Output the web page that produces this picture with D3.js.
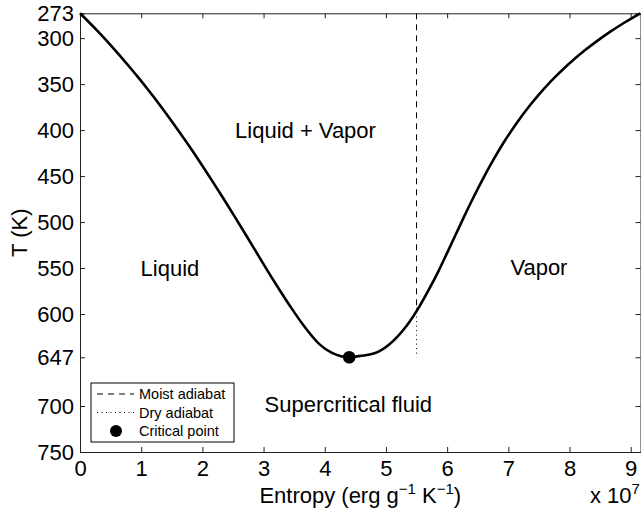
<!DOCTYPE html>
<html>
<head>
<meta charset="utf-8">
<script src="https://cdn.jsdelivr.net/npm/d3@7"></script>
<style>
body { margin: 0; background: #fff; }
svg { display: block; font-family: "Liberation Sans", Arial, Helvetica, sans-serif; }
</style>
</head>
<body>
<svg width="641" height="515"></svg>
<script>
// saturation dome of water, entropy in 1e7 erg g^-1 K^-1, T in K
var entropy = [0, 0.151, 0.297, 0.437, 0.572, 0.704, 0.831, 0.955, 1.075, 1.193, 1.307, 1.528, 1.739, 1.943, 2.139,
    2.331, 2.518, 2.702, 2.884, 3.066, 3.254, 3.450, 3.661, 3.916, 4.11, 4.25, 4.40,
    4.58, 4.80, 5.053, 5.335, 5.536, 5.705, 5.861, 6.004, 6.144, 6.285, 6.431, 6.585, 6.750, 6.929, 7.129,
    7.354, 7.478, 7.611, 7.754, 7.908, 8.075, 8.256, 8.453, 8.667, 8.900, 9.156];
var temp = [273, 283, 293, 303, 313, 323, 333, 343, 353, 363, 373, 393, 413, 433, 453,
    473, 493, 513, 533, 553, 573, 593, 613, 633, 642, 645.5, 647,
    645.5, 643, 633, 613, 593, 573, 553, 533, 513, 493, 473, 453, 433, 413, 393,
    373, 363, 353, 343, 333, 323, 313, 303, 293, 283, 273];

var moistS = 5.5, moistT = [273, 593];
var dryS = 5.5, dryT = [593, 647];
var critS = 4.40, critT = 647;

var xTicks = [0, 1, 2, 3, 4, 5, 6, 7, 8, 9];
var yTicks = [273, 300, 350, 400, 450, 500, 550, 600, 647, 700, 750];

var regionNames = ["Liquid + Vapor", "Liquid", "Vapor", "Supercritical fluid"];
var regionS = [3.685, 1.47, 7.50, 4.385];
var regionT = [409, 558.5, 557.5, 706.7];

var svg = d3.select("svg"),
    mLeft = 80, mRight = 640.5, mTop = 13.3, mBottom = 452;

var x = d3.scaleLinear().domain([0, 9.16]).range([mLeft, mRight]);
var y = d3.scaleLinear().domain([273, 750]).range([mTop, mBottom]);

var data = entropy.map(function (s, i) { return {s: s, t: temp[i]}; });

// axes, ticks pointing inward on all four sides
var fs = "22px";
var gx = svg.append("g").attr("transform", "translate(0," + mBottom + ")")
    .call(d3.axisBottom(x).tickValues(xTicks).tickSizeInner(-5).tickSizeOuter(0).tickPadding(8).tickFormat(d3.format("d")));
var gy = svg.append("g").attr("transform", "translate(" + mLeft + ",0)")
    .call(d3.axisLeft(y).tickValues(yTicks).tickSizeInner(-5).tickSizeOuter(0).tickPadding(6).tickFormat(d3.format("d")));
var gt = svg.append("g").attr("transform", "translate(0," + mTop + ")")
    .call(d3.axisTop(x).tickValues(xTicks).tickSizeInner(-5).tickSizeOuter(0).tickFormat(""));
var gr = svg.append("g").attr("transform", "translate(" + mRight + ",0)")
    .call(d3.axisRight(y).tickValues(yTicks).tickSizeInner(-5).tickSizeOuter(0).tickFormat(""));

[gx, gy, gt, gr].forEach(function (g) {
    g.selectAll("text").style("font-size", fs).attr("fill", "#000")
        .style("font-family", "'Liberation Sans', Arial, sans-serif");
    g.selectAll("path, line").attr("stroke", "#222").attr("stroke-width", 1);
});

// moist adiabat (dashed) and dry adiabat (dotted)
svg.append("line")
    .attr("x1", x(moistS)).attr("x2", x(moistS))
    .attr("y1", y(moistT[0])).attr("y2", y(moistT[1]))
    .attr("stroke", "#000").attr("stroke-width", 1).attr("stroke-dasharray", "6,5");
svg.append("line")
    .attr("x1", x(dryS)).attr("x2", x(dryS))
    .attr("y1", y(dryT[0])).attr("y2", y(dryT[1]))
    .attr("stroke", "#000").attr("stroke-width", 1).attr("stroke-dasharray", "1,3.5");

// saturation curve
var line = d3.line()
    .x(function (d) { return x(d.s); })
    .y(function (d) { return y(d.t); })
    .curve(d3.curveMonotoneX);

svg.append("path")
    .datum(data)
    .attr("d", line)
    .attr("fill", "none")
    .attr("stroke", "#000")
    .attr("stroke-width", 2.6);

svg.append("circle")
    .attr("cx", x(critS)).attr("cy", y(critT)).attr("r", 6.3)
    .attr("fill", "#000");

// region labels
svg.selectAll(".region")
    .data(regionNames)
    .enter().append("text")
    .attr("class", "region")
    .attr("x", function (d, i) { return x(regionS[i]); })
    .attr("y", function (d, i) { return y(regionT[i]); })
    .attr("text-anchor", "middle")
    .style("font-size", fs)
    .text(function (d) { return d; });

// axis labels
svg.append("text")
    .attr("transform", "translate(27," + ((mTop + mBottom) / 2) + ") rotate(-90)")
    .attr("text-anchor", "middle")
    .style("font-size", fs)
    .text("T (K)");

var xl = svg.append("text")
    .attr("x", (mLeft + mRight) / 2)
    .attr("y", 503)
    .attr("text-anchor", "middle")
    .style("font-size", fs);
xl.append("tspan").text("Entropy (erg g");
xl.append("tspan").attr("dy", -9).style("font-size", "15px").text("\u22121");
xl.append("tspan").attr("dy", 9).text(" K");
xl.append("tspan").attr("dy", -9).style("font-size", "15px").text("\u22121");
xl.append("tspan").attr("dy", 9).text(")");

var mult = svg.append("text")
    .attr("x", 590)
    .attr("y", 503)
    .style("font-size", fs);
mult.append("tspan").text("x 10");
mult.append("tspan").attr("dy", -9).style("font-size", "15px").text("7");

// legend
var legend = svg.append("g");
legend.append("rect")
    .attr("x", 91).attr("y", 383).attr("width", 143).attr("height", 59)
    .attr("fill", "#fff").attr("stroke", "#000").attr("stroke-width", 1);

var legendNames = ["Moist adiabat", "Dry adiabat", "Critical point"];
var rows = legend.selectAll(".legend")
    .data(legendNames)
    .enter().append("g")
    .attr("class", "legend")
    .attr("transform", function (d, i) { return "translate(0," + (394 + i * 18.5) + ")"; });

rows.append("text")
    .attr("x", 139)
    .attr("dy", "0.35em")
    .style("font-size", "14.5px")
    .text(function (d) { return d; });

rows.filter(function (d, i) { return i < 2; }).append("line")
    .attr("x1", 97).attr("x2", 134)
    .attr("stroke", "#000").attr("stroke-width", 1)
    .attr("stroke-dasharray", function (d, i) { return i === 0 ? "6,5" : "1,3.5"; });

rows.filter(function (d, i) { return i === 2; }).append("circle")
    .attr("cx", 116).attr("r", 6).attr("fill", "#000");
</script>
</body>
</html>
